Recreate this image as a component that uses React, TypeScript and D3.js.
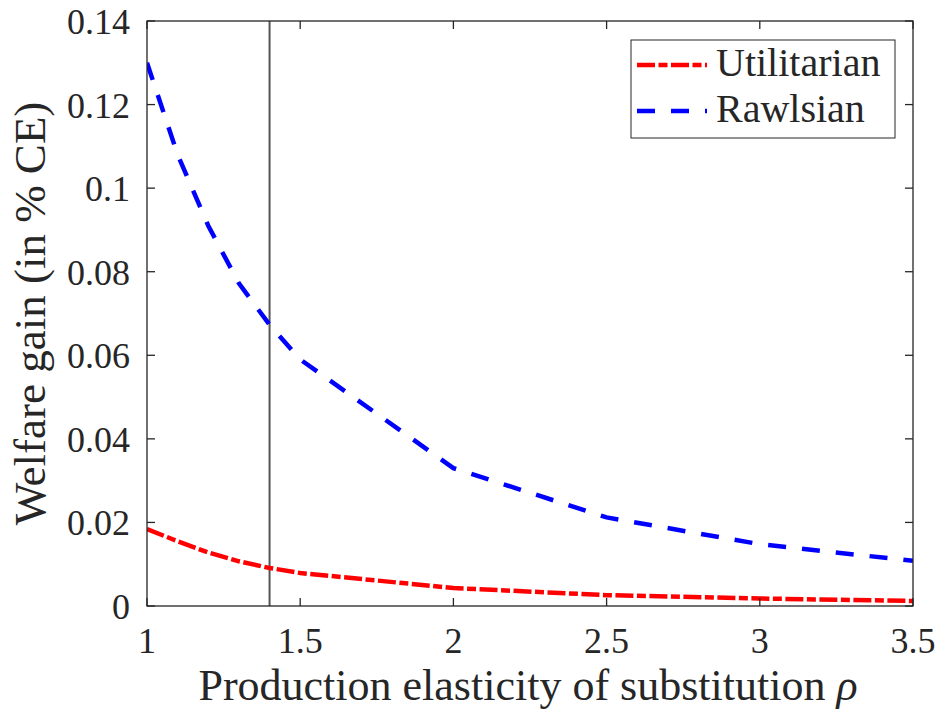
import React from "react";
import * as d3 from "d3";

const rho = [1, 1.1, 1.2, 1.3, 1.4, 1.5, 2, 2.5, 3, 3.5];
const utilitarian = [0.0184, 0.0155, 0.0128, 0.0107, 0.0091, 0.0079, 0.0043, 0.0026, 0.0018, 0.0012];
const rawlsian = [0.13, 0.108, 0.091, 0.0772, 0.0673, 0.059, 0.033, 0.0212, 0.0148, 0.0108];
const xTicks = [1, 1.5, 2, 2.5, 3, 3.5];
const yTicks = [0, 0.02, 0.04, 0.06, 0.08, 0.1, 0.12, 0.14];
const refRho = 1.4;
const seriesNames = ["Utilitarian", "Rawlsian"];
const xLabel = "Production elasticity of substitution ";
const yLabel = "Welfare gain (in % CE)";

const W = 941;
const H = 711;
const L = 147, R = 913, T = 21, B = 606;
const AX = "#262626";
const FONT = '"Liberation Serif", "Times New Roman", Times, serif';
const tstyle = { fontFamily: FONT };

export default function App() {
  const x = d3.scaleLinear().domain([1, 3.5]).range([L, R]);
  const y = d3.scaleLinear().domain([0, 0.14]).range([B, T]);
  const line = d3
    .line<number>()
    .x((_, i) => x(rho[i]))
    .y((d) => y(d));
  const fmt = (v: number) => String(+v.toFixed(2));
  const tickLen = 8;

  const series = [
    { name: seriesNames[0], data: utilitarian, color: "#ff0000", dash: "18 3.5 9 3.5" },
    { name: seriesNames[1], data: rawlsian, color: "#0000ff", dash: "18 16" },
  ];

  return (
    <svg
      width={W}
      height={H}
      style={{ position: "absolute", left: 0, top: 0, background: "#fff", fontFamily: FONT }}
    >
      <rect x={0} y={0} width={W} height={H} fill="#fff" />
      <defs>
        <clipPath id="plot">
          <rect x={L} y={T} width={R - L} height={B - T} />
        </clipPath>
      </defs>
      <line x1={x(refRho)} x2={x(refRho)} y1={T} y2={B} stroke="#555" strokeWidth={2} />
      <g clipPath="url(#plot)">
        {series.map((s) => (
          <path
            key={s.name}
            d={line(s.data) || ""}
            fill="none"
            stroke={s.color}
            strokeWidth={4.5}
            strokeDasharray={s.dash}
          />
        ))}
      </g>
      <rect x={L} y={T} width={R - L} height={B - T} fill="none" stroke={AX} strokeWidth={1.3} />
      {xTicks.map((t) => (
        <g key={"x" + t}>
          <line x1={x(t)} x2={x(t)} y1={B} y2={B - tickLen} stroke={AX} strokeWidth={1.3} />
          <line x1={x(t)} x2={x(t)} y1={T} y2={T + tickLen} stroke={AX} strokeWidth={1.3} />
          <text x={x(t)} y={653} textAnchor="middle" fontSize={36} fill={AX} style={tstyle}>
            {fmt(t)}
          </text>
        </g>
      ))}
      {yTicks.map((t) => (
        <g key={"y" + t}>
          <line x1={L} x2={L + tickLen} y1={y(t)} y2={y(t)} stroke={AX} strokeWidth={1.3} />
          <line x1={R} x2={R - tickLen} y1={y(t)} y2={y(t)} stroke={AX} strokeWidth={1.3} />
          <text x={130} y={y(t) + 13} textAnchor="end" fontSize={36} fill={AX} style={tstyle}>
            {fmt(t)}
          </text>
        </g>
      ))}
      <text x={528} y={700} textAnchor="middle" fontSize={44} fill={AX} style={tstyle}>
        {xLabel}
        <tspan fontStyle="italic">ρ</tspan>
      </text>
      <text
        transform={`translate(45, ${(T + B) / 2}) rotate(-90)`}
        textAnchor="middle"
        fontSize={45}
        fill={AX}
        style={tstyle}
      >
        {yLabel}
      </text>
      <rect x={631} y={40} width={264} height={98} fill="#fff" stroke={AX} strokeWidth={1} />
      {series.map((s, i) => {
        const ly = i === 0 ? 65 : 111;
        return (
          <g key={"lg" + s.name}>
            <line
              x1={637}
              x2={707}
              y1={ly}
              y2={ly}
              stroke={s.color}
              strokeWidth={4.5}
              strokeDasharray={s.dash}
            />
            <text x={716} y={ly + 11} fontSize={40} fill={AX} style={tstyle}>
              {s.name}
            </text>
          </g>
        );
      })}
    </svg>
  );
}
